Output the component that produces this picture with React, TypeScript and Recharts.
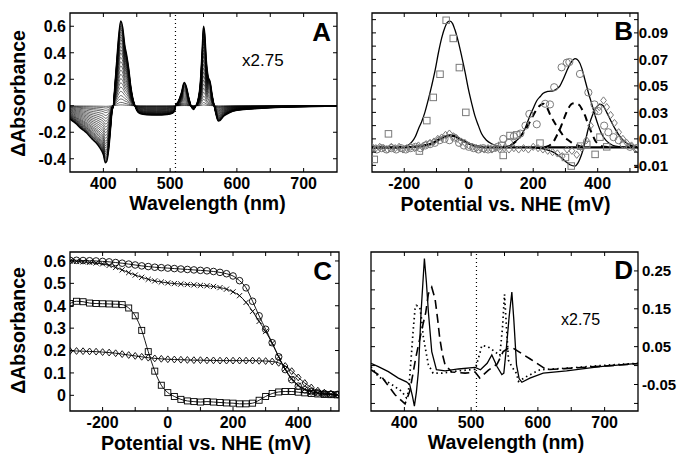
import React from 'react';
import { LineChart, ComposedChart, Line, Scatter, XAxis, YAxis, ReferenceLine, ReferenceArea } from 'recharts';

const FONT = '"Liberation Sans", Arial, Helvetica, sans-serif';
const GRAY = '#7a7a7a';

// ---------------- Panel A : redox difference spectra ----------------
const wavelengthA = [350,355,360,365,370,375,380,385,390,395,400,403,405,408,411,413,415,417,420,423,426,429,432,435,438,441,444,447,450,455,465,480,495,503,507,508,512,517,521,524,528,532,535,538,542,545,548,550,552,554,557,560,563,566,569,572,575,580,590,600,620,650,700,750];
const envelopeA = [-0.10,-0.12,-0.14,-0.165,-0.185,-0.205,-0.235,-0.26,-0.285,-0.32,-0.37,-0.43,-0.42,-0.33,-0.16,-0.04,0.0,0.14,0.34,0.53,0.64,0.59,0.46,0.38,0.28,0.15,0.06,0.005,-0.035,-0.06,-0.068,-0.07,-0.066,-0.058,-0.035,0.0,0.03,0.10,0.175,0.15,0.06,-0.01,-0.028,-0.005,0.05,0.16,0.42,0.60,0.54,0.36,0.22,0.18,0.08,0.0,-0.07,-0.115,-0.11,-0.08,-0.05,-0.035,-0.025,-0.015,-0.007,-0.002];
const levelsA = [0.01,0.04,0.08,0.12,0.17,0.22,0.27,0.32,0.37,0.42,0.47,0.52,0.57,0.62,0.66,0.70,0.74,0.78,0.81,0.84,0.87,0.90,0.92,0.94,0.96,0.98,1.0];
const xTicksA = [400,450,500,550,600,650,700];
const xLabelsA = ['400','','500','','600','','700'];
const yTicksA = [-0.4,-0.2,0,0.2,0.4,0.6];
const yLabelsA = ['-0.4','-0.2','0','0.2','0.4','0.6'];

// ---------------- Panel B : derivative / fits ----------------
const bigFitB: [number, number][] = [[-300,0.0035],[-250,0.0035],[-210,0.004],[-190,0.005],[-177,0.0075],[-165,0.012],[-156,0.0175],[-146,0.023],[-136,0.030],[-125,0.040],[-115,0.050],[-104,0.062],[-94,0.075],[-84,0.086],[-74,0.094],[-66,0.098],[-58,0.0988],[-50,0.097],[-43,0.0925],[-32,0.083],[-22,0.0725],[-11,0.060],[-1,0.0475],[9,0.037],[19,0.0275],[30,0.020],[40,0.0138],[55,0.009],[71,0.0063],[90,0.0045],[112,0.004]];
const bumpFitB: [number, number][] = [[-300,0.0035],[-250,0.0035],[-200,0.0037],[-170,0.004],[-146,0.0045],[-130,0.0055],[-120,0.006],[-110,0.007],[-100,0.0085],[-90,0.0098],[-80,0.011],[-70,0.012],[-58,0.0125],[-48,0.0123],[-40,0.0115],[-30,0.0103],[-20,0.009],[-10,0.0077],[0,0.0065],[10,0.0055],[20,0.0047],[40,0.0039],[70,0.0036],[120,0.0036],[200,0.0036],[300,0.0036],[400,0.0036],[525,0.0036]];
const circFitB: [number, number][] = [[100,0.0038],[128,0.005],[145,0.008],[159,0.0113],[175,0.018],[190,0.0275],[200,0.033],[211,0.0388],[222,0.042],[231,0.0445],[245,0.0458],[262,0.0463],[275,0.048],[283,0.050],[293,0.055],[304,0.0613],[318,0.068],[330,0.0705],[340,0.069],[350,0.0638],[360,0.055],[371,0.045],[382,0.036],[392,0.0275],[402,0.02],[412,0.0138],[425,0.009],[438,0.0063],[455,0.0045],[480,0.0038],[525,0.0035]];
const diamFitB: [number, number][] = [[180,0.0037],[210,0.003],[231,0.0025],[250,0.0012],[262,0.0],[275,-0.002],[288,-0.0045],[300,-0.007],[314,-0.0095],[330,-0.0105],[338,-0.0085],[345,-0.005],[353,0.0005],[361,0.0075],[368,0.015],[376,0.0225],[384,0.028],[392,0.0325],[400,0.035],[407,0.0363],[417,0.035],[428,0.030],[440,0.024],[454,0.0175],[467,0.0125],[480,0.0088],[495,0.006],[511,0.0045],[525,0.004]];
const dash1B: [number, number][] = [[130,0.005],[150,0.009],[170,0.015],[190,0.023],[205,0.030],[220,0.035],[232,0.0365],[242,0.034],[252,0.0285],[262,0.024],[273,0.0195],[283,0.016],[293,0.0125],[306,0.0095],[319,0.0072],[332,0.0055],[345,0.0045],[370,0.0037]];
const dash2B: [number, number][] = [[235,0.0037],[250,0.005],[262,0.0075],[272,0.012],[283,0.0175],[291,0.0225],[299,0.0275],[307,0.032],[314,0.035],[320,0.0365],[327,0.037],[336,0.0365],[345,0.035],[353,0.0315],[361,0.0275],[368,0.0225],[376,0.0175],[384,0.013],[392,0.0088],[402,0.006],[412,0.0045],[440,0.0037]];
const squaresB: [number, number][] = [[-293,-0.0055],[-249,0.0138],[-153,0.0008],[-130,0.0238],[-110,0.0413],[-89,0.0588],[-70,0.0995],[-48,0.0858],[-29,0.0638],[-9,0.030],[102,0.005],[107,-0.0025],[128,0.0125],[149,0.013],[221,0.0068],[318,-0.0105],[300,-0.004],[347,0.0045],[366,0.0058],[392,-0.0017],[407,0.0113],[428,0.004]];
const circlesB: [number, number][] = [[-300,0.003],[-285,0.002],[-270,0.003],[-255,0.002],[-240,0.003],[-225,0.002],[-210,0.003],[-195,0.002],[-180,0.003],[-165,0.004],[-150,0.003],[-135,0.005],[-120,0.006],[-105,0.007],[-90,0.009],[-75,0.010],[-60,0.009],[-45,0.011],[-30,0.007],[-15,0.005],[0,0.004],[15,0.003],[30,0.002],[45,0.003],[60,0.002],[75,0.003],[90,0.004],[107,0.010],[125,0.007],[140,0.012],[160,0.014],[176,0.020],[188,0.0288],[211,0.021],[237,0.0365],[252,0.036],[265,0.049],[288,0.064],[304,0.0675],[312,0.068],[345,0.059],[371,0.045],[390,0.036],[402,0.031],[420,0.02],[433,0.015],[449,0.0113],[465,0.009],[480,0.006],[500,0.004],[520,0.003]];
const diamondsB: [number, number][] = [[-300,0.004],[-288,0.003],[-276,0.004],[-264,0.003],[-252,0.002],[-240,0.004],[-228,0.003],[-216,0.004],[-204,0.002],[-192,0.003],[-180,0.004],[-168,0.003],[-156,0.005],[-144,0.004],[-132,0.006],[-120,0.007],[-108,0.008],[-96,0.01],[-84,0.011],[-72,0.013],[-60,0.014],[-48,0.012],[-36,0.01],[-24,0.008],[-12,0.007],[0,0.005],[12,0.004],[24,0.003],[36,0.003],[48,0.002],[60,0.003],[72,0.002],[84,0.003],[96,0.002],[110,0.003],[125,0.002],[140,0.003],[155,0.002],[170,0.003],[185,0.002],[200,0.004],[215,0.003],[230,0.002],[245,0.001],[260,0.0],[275,-0.001],[290,-0.003],[305,0.002],[320,0.001],[335,-0.002],[350,0.003],[365,0.009],[378,0.02],[392,0.03],[405,0.034],[418,0.039],[428,0.034],[440,0.028],[452,0.022],[465,0.015],[478,0.01],[490,0.007],[505,0.005],[520,0.003]];
const xTicksB = [-200,-100,0,100,200,300,400,500];
const xLabelsB = ['-200','','0','','200','','400',''];
const yTicksB = [-0.01,0,0.01,0.02,0.03,0.04,0.05,0.06,0.07,0.08,0.09,0.1];
const yLabelsB = ['-0.01','','0.01','','0.03','','0.05','','0.07','','0.09',''];

// ---------------- Panel C : titration curves ----------------
const potentialC = [-300,-280,-260,-240,-220,-200,-180,-160,-140,-120,-100,-80,-60,-40,-20,0,20,40,60,80,100,120,140,160,180,200,220,240,260,280,300,320,340,360,380,400,420,440,460,480,500,520];
const circlesC = [0.603,0.603,0.602,0.601,0.600,0.598,0.596,0.593,0.590,0.586,0.582,0.578,0.575,0.572,0.570,0.568,0.566,0.564,0.562,0.560,0.558,0.556,0.553,0.549,0.543,0.533,0.512,0.480,0.420,0.355,0.295,0.235,0.172,0.115,0.070,0.041,0.025,0.016,0.011,0.008,0.005,0.004];
const crossesC = [0.600,0.598,0.596,0.594,0.591,0.587,0.580,0.571,0.560,0.548,0.537,0.527,0.518,0.511,0.506,0.502,0.499,0.497,0.495,0.493,0.491,0.489,0.486,0.481,0.474,0.462,0.445,0.415,0.375,0.330,0.285,0.232,0.172,0.118,0.075,0.045,0.027,0.016,0.010,0.006,0.004,0.003];
const diamondsC = [0.198,0.198,0.197,0.196,0.195,0.193,0.191,0.188,0.184,0.180,0.176,0.172,0.168,0.165,0.163,0.161,0.160,0.159,0.158,0.157,0.157,0.156,0.156,0.155,0.155,0.155,0.155,0.155,0.155,0.154,0.153,0.151,0.145,0.131,0.108,0.080,0.055,0.035,0.021,0.012,0.007,0.004];
const squaresC = [0.410,0.420,0.418,0.412,0.410,0.409,0.408,0.407,0.405,0.390,0.355,0.290,0.195,0.108,0.045,0.012,-0.005,-0.018,-0.025,-0.028,-0.030,-0.028,-0.030,-0.032,-0.034,-0.035,-0.038,-0.038,-0.035,-0.022,-0.005,0.008,0.015,0.017,0.017,0.014,0.011,0.008,0.006,0.004,0.003,0.002];
const yTicksC = [0,0.1,0.2,0.3,0.4,0.5,0.6];
const yLabelsC = ['0','0.1','0.2','0.3','0.4','0.5','0.6'];

// ---------------- Panel D : component spectra ----------------
const solidD: [number, number][] = [[350,0.006],[361,-0.003],[376,-0.016],[391,-0.033],[403,-0.043],[408,-0.05],[412,-0.08],[415,-0.107],[418,-0.07],[421,-0.016],[425,0.141],[430,0.283],[433,0.22],[436,0.141],[441,0.037],[448,-0.011],[461,-0.014],[481,-0.009],[506,-0.005],[514,-0.011],[524,0.006],[531,0.028],[539,-0.003],[546,-0.024],[549,-0.02],[553,0.05],[557,0.13],[561,0.194],[564,0.12],[568,0.002],[572,-0.035],[576,-0.044],[588,-0.033],[608,-0.02],[643,-0.014],[693,-0.003],[750,0.006]];
const dashedD: [number, number][] = [[350,-0.011],[366,-0.03],[386,-0.077],[401,-0.101],[408,-0.068],[413,-0.02],[417,0.02],[421,0.054],[427,0.102],[432,0.14],[436,0.19],[441,0.207],[446,0.176],[450,0.12],[453,0.072],[457,0.03],[461,0.002],[471,-0.017],[491,-0.02],[506,-0.017],[513,-0.033],[526,-0.012],[539,0.004],[548,0.037],[555,0.045],[563,0.046],[588,0.018],[613,-0.011],[640,-0.008],[693,-0.002],[750,0.005]];
const dottedD: [number, number][] = [[350,-0.003],[361,-0.029],[381,-0.05],[396,-0.068],[403,-0.085],[406,-0.07],[408,-0.03],[411,0.04],[413,0.089],[416,0.15],[418,0.159],[423,0.155],[426,0.12],[428,0.08],[432,0.04],[436,0.002],[443,-0.02],[456,-0.02],[481,-0.014],[506,-0.01],[513,0.032],[516,0.053],[525,0.05],[533,0.04],[543,0.027],[547,0.1],[550,0.188],[553,0.1],[556,0.014],[561,-0.003],[568,-0.021],[571,-0.042],[583,-0.029],[603,-0.011],[643,-0.007],[693,0.0],[750,0.006]];
const yTicksD = [-0.1,-0.05,0,0.05,0.1,0.15,0.2,0.25];
const yLabelsD = ['','-0.05','','0.05','','0.15','','0.25'];

const SCALE_BREAK = 508;

// ---------------- helpers ----------------
const pts = (arr: [number, number][]) => arr.map(([x, y]) => ({ x, y }));
const zipXY = (xs: number[], ys: number[]) => xs.map((x, i) => ({ x, y: ys[i] }));
const findLabel = (vals: number[], labs: string[], v: number) => {
  const i = vals.findIndex((t) => Math.abs(t - v) < 1e-7);
  return i >= 0 ? labs[i] : '';
};

const xTick = (top: number, vals: number[], labs: string[]) => (p: any) => {
  const { x, y, payload } = p;
  const lab = findLabel(vals, labs, payload.value);
  return (
    <g>
      <line x1={x} x2={x} y1={y} y2={y - 4} stroke="#000" strokeWidth={1} />
      <line x1={x} x2={x} y1={top} y2={top + 4} stroke="#000" strokeWidth={1} />
      {lab !== '' && (
        <text x={x} y={y + 16.5} textAnchor="middle" fontFamily={FONT} fontWeight="bold" fontSize={16} fill="#000">{lab}</text>
      )}
    </g>
  );
};

const yTick = (right: number, vals: number[], labs: string[], mode: 'left' | 'rightEnd' | 'rightStart', fs: number) => (p: any) => {
  const { x, y, payload } = p;
  const lab = findLabel(vals, labs, payload.value);
  let tx = x - 4;
  let anchor: 'end' | 'start' = 'end';
  if (mode === 'rightEnd') { tx = right + 30; anchor = 'end'; }
  if (mode === 'rightStart') { tx = right + 4; anchor = 'start'; }
  return (
    <g>
      <line x1={x} x2={x + 4} y1={y} y2={y} stroke="#000" strokeWidth={1} />
      <line x1={right} x2={right - 4} y1={y} y2={y} stroke="#000" strokeWidth={1} />
      {lab !== '' && (
        <text x={tx} y={y + fs * 0.36} textAnchor={anchor} fontFamily={FONT} fontWeight="bold" fontSize={fs} fill="#000">{lab}</text>
      )}
    </g>
  );
};

const SquareMark = ({ cx, cy, color, s = 6.5, w = 1 }: any) => (
  <rect x={cx - s / 2} y={cy - s / 2} width={s} height={s} fill="none" stroke={color} strokeWidth={w} />
);
const CircleMark = ({ cx, cy, color, r = 3.6, w = 1 }: any) => (
  <circle cx={cx} cy={cy} r={r} fill="none" stroke={color} strokeWidth={w} />
);
const DiamondMark = ({ cx, cy, color, s = 3.6, w = 1 }: any) => (
  <path d={`M${cx},${cy - s}L${cx + s * 0.8},${cy}L${cx},${cy + s}L${cx - s * 0.8},${cy}Z`} fill="none" stroke={color} strokeWidth={w} />
);
const XMark = ({ cx, cy, color, s = 2.6, w = 0.9 }: any) => (
  <path d={`M${cx - s},${cy - s}L${cx + s},${cy + s}M${cx - s},${cy + s}L${cx + s},${cy - s}`} fill="none" stroke={color} strokeWidth={w} />
);

const boxProps = { fill: 'none', stroke: '#000', strokeWidth: 1.3, fillOpacity: 0, ifOverflow: 'visible' as const };

// XAxis height 1 and YAxis width 1 so the axes are rendered; margins compensate.
const axisCommonX = { tickLine: false, axisLine: false, height: 1, tickSize: 0, tickMargin: 0, interval: 0 as const, allowDataOverflow: true };
const axisCommonY = { tickLine: false, axisLine: false, width: 1, tickSize: 0, tickMargin: 0, interval: 0 as const, allowDataOverflow: true };

// ---------------- panels ----------------
const PanelA = () => {
  const W = 340, H = 227;
  const plot = { l: 70, t: 13, r: 337, b: 172 };
  const m = { top: plot.t, right: W - plot.r, bottom: H - plot.b - 1, left: plot.l - 1 };
  const rows = wavelengthA.map((wl, i) => {
    const r: any = { wl };
    levelsA.forEach((f, k) => { r['s' + k] = envelopeA[i] * f; });
    return r;
  });
  return (
    <LineChart width={W} height={H} data={rows} margin={m}>
      <XAxis type="number" dataKey="wl" domain={[350, 750]} ticks={xTicksA} tick={xTick(plot.t, xTicksA, xLabelsA)} {...axisCommonX} />
      <YAxis type="number" domain={[-0.5, 0.7]} ticks={yTicksA} tick={yTick(plot.r, yTicksA, yLabelsA, 'left', 16)} {...axisCommonY} />
      {levelsA.map((f, k) => (
        <Line key={k} dataKey={'s' + k} type="monotone" stroke="#000" strokeWidth={k === levelsA.length - 1 ? 1.4 : 0.6}
          dot={false} activeDot={false} isAnimationActive={false} />
      ))}
      <ReferenceLine x={SCALE_BREAK} stroke="#000" strokeWidth={1.2} strokeDasharray="1 3" />
      <ReferenceArea x1={350} x2={750} y1={-0.5} y2={0.7} {...boxProps} />
    </LineChart>
  );
};

const PanelB = () => {
  const W = 341, H = 227;
  const plot = { l: 32, t: 13, r: 298, b: 172 };
  const m = { top: plot.t, right: W - plot.r, bottom: H - plot.b - 1, left: plot.l - 1 };
  return (
    <ComposedChart width={W} height={H} margin={m}>
      <XAxis type="number" dataKey="x" domain={[-300, 525]} ticks={xTicksB} tick={xTick(plot.t, xTicksB, xLabelsB)} {...axisCommonX} />
      <YAxis type="number" dataKey="y" domain={[-0.015, 0.105]} ticks={yTicksB} tick={yTick(plot.r, yTicksB, yLabelsB, 'rightEnd', 15)} {...axisCommonY} />
      <Scatter data={pts(squaresB)} dataKey="y" isAnimationActive={false} shape={(p: any) => <SquareMark cx={p.cx} cy={p.cy} color={GRAY} />} />
      <Scatter data={pts(circlesB)} dataKey="y" isAnimationActive={false} shape={(p: any) => <CircleMark cx={p.cx} cy={p.cy} color={GRAY} />} />
      <Scatter data={pts(diamondsB)} dataKey="y" isAnimationActive={false} shape={(p: any) => <DiamondMark cx={p.cx} cy={p.cy} color={GRAY} />} />
      <Line data={pts(bigFitB)} dataKey="y" type="monotone" stroke="#000" strokeWidth={1.3} dot={false} activeDot={false} isAnimationActive={false} />
      <Line data={pts(bumpFitB)} dataKey="y" type="monotone" stroke="#000" strokeWidth={2.4} dot={false} activeDot={false} isAnimationActive={false} />
      <Line data={pts(circFitB)} dataKey="y" type="monotone" stroke="#000" strokeWidth={1.3} dot={false} activeDot={false} isAnimationActive={false} />
      <Line data={pts(diamFitB)} dataKey="y" type="monotone" stroke="#000" strokeWidth={1.3} dot={false} activeDot={false} isAnimationActive={false} />
      <Line data={pts(dash1B)} dataKey="y" type="monotone" stroke="#000" strokeWidth={2} strokeDasharray="7 5" dot={false} activeDot={false} isAnimationActive={false} />
      <Line data={pts(dash2B)} dataKey="y" type="monotone" stroke="#000" strokeWidth={2} strokeDasharray="7 5" dot={false} activeDot={false} isAnimationActive={false} />
      <ReferenceArea x1={-300} x2={525} y1={-0.015} y2={0.105} {...boxProps} />
    </ComposedChart>
  );
};

const PanelC = () => {
  const W = 340, H = 227;
  const plot = { l: 70, t: 25, r: 339, b: 184 };
  const m = { top: plot.t, right: W - plot.r, bottom: H - plot.b - 1, left: plot.l - 1 };
  const series = [
    { ys: circlesC, mark: (p: any) => <CircleMark key={'c' + p.index} cx={p.cx} cy={p.cy} color="#000" r={3.3} w={0.9} /> },
    { ys: crossesC, mark: (p: any) => <XMark key={'x' + p.index} cx={p.cx} cy={p.cy} color="#000" /> },
    { ys: diamondsC, mark: (p: any) => <DiamondMark key={'d' + p.index} cx={p.cx} cy={p.cy} color="#000" s={3.4} w={0.9} /> },
    { ys: squaresC, mark: (p: any) => <SquareMark key={'s' + p.index} cx={p.cx} cy={p.cy} color="#000" s={6} w={0.9} /> },
  ];
  return (
    <ComposedChart width={W} height={H} margin={m}>
      <XAxis type="number" dataKey="x" domain={[-300, 525]} ticks={xTicksB} tick={xTick(plot.t, xTicksB, xLabelsB)} {...axisCommonX} />
      <YAxis type="number" dataKey="y" domain={[-0.07, 0.64]} ticks={yTicksC} tick={yTick(plot.r, yTicksC, yLabelsC, 'left', 16)} {...axisCommonY} />
      {series.map((s, i) => (
        <Line key={i} data={zipXY(potentialC, s.ys)} dataKey="y" type="monotone" stroke="#000" strokeWidth={0.9}
          dot={s.mark} activeDot={false} isAnimationActive={false} />
      ))}
      <ReferenceArea x1={-300} x2={525} y1={-0.07} y2={0.64} {...boxProps} />
    </ComposedChart>
  );
};

const PanelD = () => {
  const W = 341, H = 227;
  const plot = { l: 31, t: 25, r: 298, b: 184 };
  const m = { top: plot.t, right: W - plot.r, bottom: H - plot.b - 1, left: plot.l - 1 };
  return (
    <LineChart width={W} height={H} margin={m}>
      <XAxis type="number" dataKey="x" domain={[350, 750]} ticks={xTicksA} tick={xTick(plot.t, xTicksA, xLabelsA)} {...axisCommonX} />
      <YAxis type="number" dataKey="y" domain={[-0.12, 0.3]} ticks={yTicksD} tick={yTick(plot.r, yTicksD, yLabelsD, 'rightStart', 15)} {...axisCommonY} />
      <Line data={pts(dottedD)} dataKey="y" type="linear" stroke="#000" strokeWidth={1.7} strokeDasharray="1.5 3.2" dot={false} activeDot={false} isAnimationActive={false} />
      <Line data={pts(dashedD)} dataKey="y" type="linear" stroke="#000" strokeWidth={1.6} strokeDasharray="9 5" dot={false} activeDot={false} isAnimationActive={false} />
      <Line data={pts(solidD)} dataKey="y" type="linear" stroke="#000" strokeWidth={1.3} dot={false} activeDot={false} isAnimationActive={false} />
      <ReferenceLine x={SCALE_BREAK} stroke="#000" strokeWidth={1.2} strokeDasharray="1 3" />
      <ReferenceArea x1={350} x2={750} y1={-0.12} y2={0.3} {...boxProps} />
    </LineChart>
  );
};

const boldTitle = { fontFamily: FONT, fontWeight: 'bold' as const, fill: '#000' };

export default function App() {
  return (
    <div style={{ position: 'absolute', left: 0, top: 0, width: 681, height: 454, background: '#fff', overflow: 'hidden' }}>
      <div style={{ position: 'absolute', left: 0, top: 0 }}><PanelA /></div>
      <div style={{ position: 'absolute', left: 340, top: 0 }}><PanelB /></div>
      <div style={{ position: 'absolute', left: 0, top: 227 }}><PanelC /></div>
      <div style={{ position: 'absolute', left: 340, top: 227 }}><PanelD /></div>
      <svg width={681} height={454} style={{ position: 'absolute', left: 0, top: 0, pointerEvents: 'none' }}>
        <text x={331} y={41} textAnchor="end" fontSize={26} {...boldTitle}>A</text>
        <text x={633} y={40} textAnchor="end" fontSize={26} {...boldTitle}>B</text>
        <text x={332} y={280} textAnchor="end" fontSize={26} {...boldTitle}>C</text>
        <text x={633} y={279} textAnchor="end" fontSize={26} {...boldTitle}>D</text>
        <text x={242} y={66} fontSize={17} fontFamily={FONT} fill="#000">x2.75</text>
        <text x={561} y={325} fontSize={16} fontFamily={FONT} fill="#000">x2.75</text>
        <text transform="translate(25,93.5) rotate(-90)" textAnchor="middle" fontSize={19.5} {...boldTitle}>ΔAbsorbance</text>
        <text transform="translate(25,330.5) rotate(-90)" textAnchor="middle" fontSize={19.5} {...boldTitle}>ΔAbsorbance</text>
        <text x={207.5} y={209.5} textAnchor="middle" fontSize={19.5} {...boldTitle}>Wavelength (nm)</text>
        <text x={505.5} y={211} textAnchor="middle" fontSize={19.5} {...boldTitle}>Potential vs. NHE (mV)</text>
        <text x={206} y={450} textAnchor="middle" fontSize={19.5} {...boldTitle}>Potential vs. NHE (mV)</text>
        <text x={506} y={449} textAnchor="middle" fontSize={19.5} {...boldTitle}>Wavelength (nm)</text>
      </svg>
    </div>
  );
}
